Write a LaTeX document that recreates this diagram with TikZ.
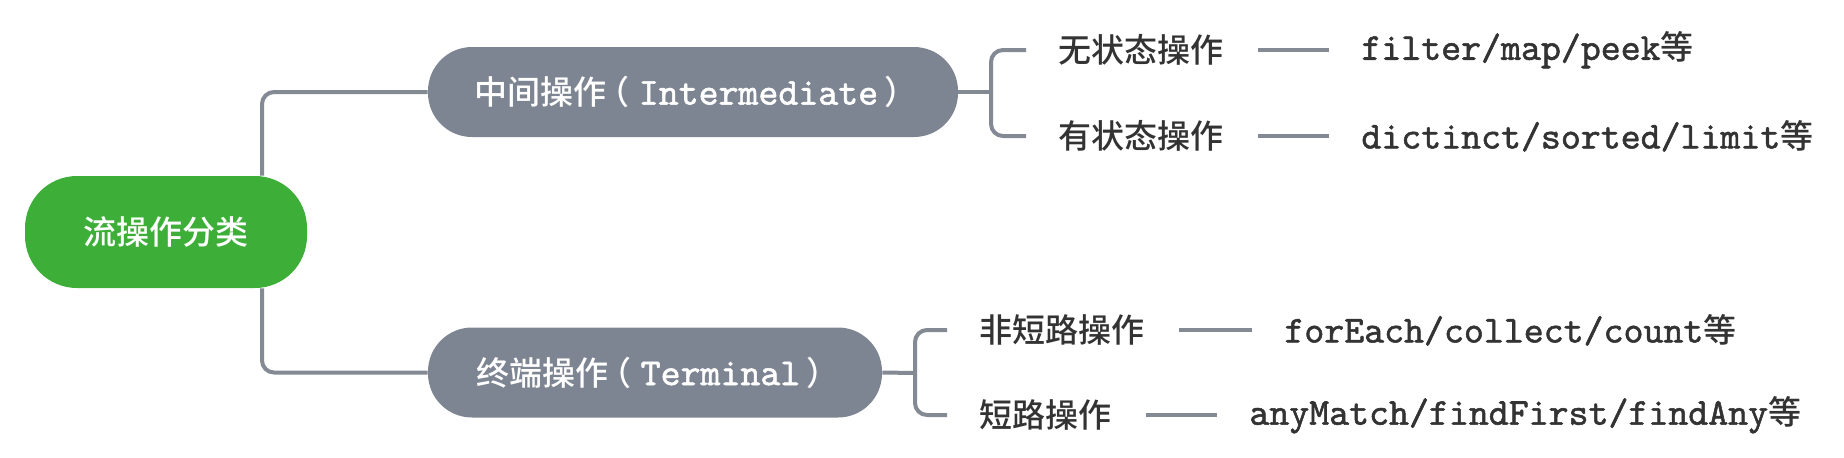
\documentclass[tikz,border=0pt]{standalone}
\usepackage{fontspec}
\newfontfamily\cjk{Noto Sans CJK SC}[UprightFont={* Medium}]
\newfontfamily\mymono{lmmono10-regular.otf}[FakeBold=1.4]
\definecolor{rootgreen}{HTML}{3DAE38}
\definecolor{catgray}{HTML}{7E8592}
\definecolor{linegray}{HTML}{848A94}
\definecolor{leaftext}{HTML}{333333}
\newcommand\mycode[1]{{\mymono\fontsize{19}{20}\selectfont #1}}
\newcommand\lp{\kern-5pt（\kern4.5pt}
\newcommand\rp{\kern3pt）\kern-3pt}
\begin{document}
\begin{tikzpicture}[x=0.5pt,y=-0.5pt,
  conn/.style={draw=linegray, line width=2pt, rounded corners=6pt},
  dashline/.style={draw=linegray, line width=2pt, shorten <=17pt, shorten >=16pt},
  rootbox/.style={fill=rootgreen, text=white, rounded corners=26pt, minimum width=141pt, minimum height=56pt, inner sep=0pt, font=\cjk\fontsize{16.5}{20}\selectfont},
  catbox/.style={fill=catgray, text=white, rounded corners=22pt, minimum height=45pt, inner sep=0pt, font=\cjk\fontsize{16.5}{20}\selectfont},
  leaf/.style={anchor=west, inner sep=0pt, text=leaftext, font=\cjk\fontsize{16.5}{20}\selectfont},
]
\useasboundingbox (0,0) rectangle (1844,457);
\node[rootbox] (root) at (166,232) {流操作分类};
\node[catbox, minimum width=265pt] (inter) at (693,92) {中间操作\lp\mycode{Intermediate}\rp};
\node[catbox, minimum width=227pt] (term) at (655,372.5) {终端操作\lp\mycode{Terminal}\rp};

\node[leaf] (s1) at (1058,50) {无状态操作};
\node[leaf] (e1) at (1361,50) {\mycode{filter/map/peek}等};
\node[leaf] (s2) at (1058,136) {有状态操作};
\node[leaf] (e2) at (1361,136) {\mycode{dictinct/sorted/limit}等};
\node[leaf] (s3) at (979,330) {非短路操作};
\node[leaf] (e3) at (1284,330) {\mycode{forEach/collect/count}等};
\node[leaf] (s4) at (979,415) {短路操作};
\node[leaf] (e4) at (1249,415) {\mycode{anyMatch/findFirst/findAny}等};

\draw[conn] ([xshift=48pt]root.north) |- (inter.west);
\draw[conn] ([xshift=48pt]root.south) |- (term.west);

\coordinate (j1) at (991,92);
\draw[conn] (inter.east) -- (j1);
\draw[conn] (j1) |- ([xshift=-16pt]s1.west);
\draw[conn] (j1) |- ([xshift=-16pt]s2.west);

\coordinate (j2) at (915,373);
\draw[conn] (term.east) -- (j2);
\draw[conn] (j2) |- ([xshift=-16pt]s3.west);
\draw[conn] (j2) |- ([xshift=-16pt]s4.west);

\draw[dashline] (s1.east) -- (e1.west);
\draw[dashline] (s2.east) -- (e2.west);
\draw[dashline] (s3.east) -- (e3.west);
\draw[dashline] (s4.east) -- (e4.west);
\end{tikzpicture}
\end{document}
